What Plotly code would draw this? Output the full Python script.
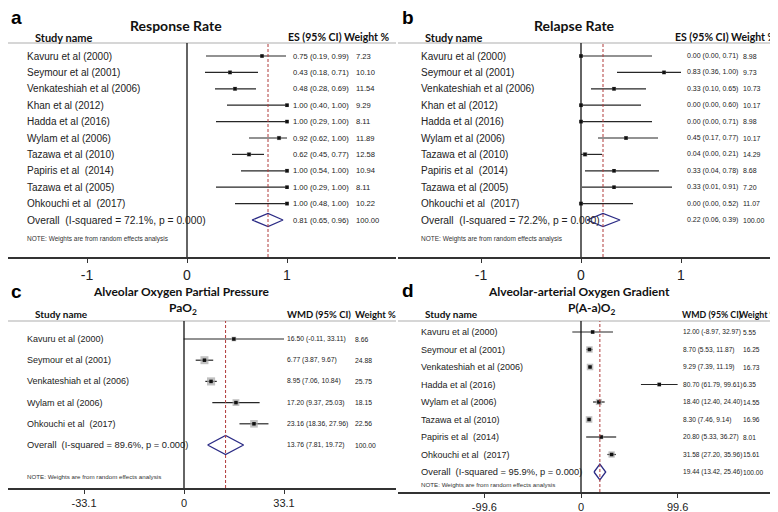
import math
import plotly.graph_objects as go

W, H = 778, 512
BODY = "Liberation Sans, Arial, sans-serif"
HEAD = "Lato, Calibri, sans-serif"
NB = "\u00a0"

# ---------------- data ----------------
a_names = ["Kavuru et al (2000)", "Seymour et al (2001)", "Venkateshiah et al (2006)",
           "Khan et al (2012)", "Hadda et al (2016)", "Wylam et al (2006)",
           "Tazawa et al (2010)", "Papiris et al  (2014)", "Tazawa et al (2005)",
           "Ohkouchi et al  (2017)"]
a_es = [0.75, 0.43, 0.48, 1.00, 1.00, 0.92, 0.62, 1.00, 1.00, 1.00]
a_lo = [0.19, 0.18, 0.28, 0.40, 0.29, 0.62, 0.45, 0.54, 0.29, 0.48]
a_hi = [0.99, 0.71, 0.69, 1.00, 1.00, 1.00, 0.77, 1.00, 1.00, 1.00]
a_wt = [7.23, 10.10, 11.54, 9.29, 8.11, 11.89, 12.58, 10.94, 8.11, 10.22]
a_overall = [0.65, 0.81, 0.96]
a_i2 = "72.1%"
a_p = "0.000"
a_tickvals = [-1, 0, 1]
a_ticktext = ["-1", "0", "1"]

b_names = a_names
b_es = [0.00, 0.83, 0.33, 0.00, 0.00, 0.45, 0.04, 0.33, 0.33, 0.00]
b_lo = [0.00, 0.36, 0.10, 0.00, 0.00, 0.17, 0.00, 0.04, 0.01, 0.00]
b_hi = [0.71, 1.00, 0.65, 0.60, 0.71, 0.77, 0.21, 0.78, 0.91, 0.52]
b_wt = [8.98, 9.73, 10.73, 10.17, 8.98, 10.17, 14.29, 8.68, 7.20, 11.07]
b_overall = [0.06, 0.22, 0.39]
b_i2 = "72.2%"
b_p = "0.000"
b_tickvals = [-1, 0, 1]
b_ticktext = ["-1", "0", "1"]

c_names = ["Kavuru et al (2000)", "Seymour et al (2001)", "Venkateshiah et al (2006)",
           "Wylam et al (2006)", "Ohkouchi et al  (2017)"]
c_es = [16.50, 6.77, 8.95, 17.20, 23.16]
c_lo = [-0.11, 3.87, 7.06, 9.37, 18.36]
c_hi = [33.11, 9.67, 10.84, 25.03, 27.96]
c_wt = [8.66, 24.88, 25.75, 18.15, 22.56]
c_overall = [7.81, 13.76, 19.72]
c_i2 = "89.6%"
c_p = "0.000"
c_tickvals = [-33.1, 0, 33.1]
c_ticktext = ["-33.1", "0", "33.1"]

d_names = ["Kavuru et al (2000)", "Seymour et al (2001)", "Venkateshiah et al (2006)",
           "Hadda et al (2016)", "Wylam et al (2006)", "Tazawa et al (2010)",
           "Papiris et al  (2014)", "Ohkouchi et al  (2017)"]
d_es = [12.00, 8.70, 9.29, 80.70, 18.40, 8.30, 20.80, 31.58]
d_lo = [-8.97, 5.53, 7.39, 61.79, 12.40, 7.46, 5.33, 27.20]
d_hi = [32.97, 11.87, 11.19, 99.61, 24.40, 9.14, 36.27, 35.96]
d_wt = [5.55, 16.25, 16.73, 6.35, 14.55, 16.96, 8.01, 15.61]
d_overall = [13.42, 19.44, 25.46]
d_i2 = "95.9%"
d_p = "0.000"
d_tickvals = [-99.6, 0, 99.6]
d_ticktext = ["-99.6", "0", "99.6"]

NOTE = "NOTE: Weights are from random effects analysis"

# ---------------- layout config (pixels) ----------------
panels = [
    dict(letter="a", title="Response Rate", sub=None,
         names=a_names, es=a_es, lo=a_lo, hi=a_hi, wt=a_wt, ov=a_overall, i2=a_i2, p=a_p,
         tv=a_tickvals, tt=a_ticktext,
         left=0, right=388, zero=179, ppu=100.0, hdr=35, axis=249, row0=48, step=16.4,
         letter_x=1, letter_y=9, title_x=168, title_y=17, title_fs=14, sub_y=None, sub_x=None,
         sh_x=25, sh_y=29, sh_fs=11, hdr_mode="single", hdr_text="ES (95% CI) Weight %", hdr_right=384,
         hdr_fs=10.5, hdr_vx=None, hdr_wx=None,
         name_x=17, val_x=283, wt_x=346, note_y=231, name_fs=10, val_fs=7.6, note_fs=6.5,
         tick_fs=14, dia_h=0.4, box_k=1.25),
    dict(letter="b", title="Relapse Rate", sub=None,
         names=b_names, es=b_es, lo=b_lo, hi=b_hi, wt=b_wt, ov=b_overall, i2=b_i2, p=b_p,
         tv=b_tickvals, tt=b_ticktext,
         left=390, right=778, zero=573, ppu=100.0, hdr=35, axis=249, row0=48, step=16.4,
         letter_x=392, letter_y=9, title_x=566, title_y=17, title_fs=14, sub_y=None, sub_x=None,
         sh_x=415, sh_y=29, sh_fs=11, hdr_mode="single", hdr_text="ES (95% CI) Weight %", hdr_right=771,
         hdr_fs=10.5, hdr_vx=None, hdr_wx=None,
         name_x=411, val_x=677, wt_x=733, note_y=231, name_fs=10, val_fs=7, note_fs=6.5,
         tick_fs=14, dia_h=0.4, box_k=1.25),
    dict(letter="c", title="Alveolar Oxygen Partial Pressure", sub="PaO<sub>2</sub>",
         names=c_names, es=c_es, lo=c_lo, hi=c_hi, wt=c_wt, ov=c_overall, i2=c_i2, p=c_p,
         tv=c_tickvals, tt=c_ticktext,
         left=0, right=388, zero=176, ppu=100.0 / 33.1, hdr=313, axis=480, row0=331, step=21.2,
         letter_x=1, letter_y=283, title_x=173, title_y=283, title_fs=12, sub_x=175, sub_y=300,
         sh_x=25, sh_y=306, sh_fs=10, hdr_mode="split", hdr_text="WMD (95% CI)", hdr_right=None,
         hdr_fs=9.5, hdr_vx=277, hdr_wx=345,
         name_x=17, val_x=277, wt_x=345, note_y=468, name_fs=9, val_fs=6.8, note_fs=6.2,
         tick_fs=11, dia_h=0.45, box_k=1.6),
    dict(letter="d", title="Alveolar-arterial Oxygen Gradient", sub="P(A-a)O<sub>2</sub>",
         names=d_names, es=d_es, lo=d_lo, hi=d_hi, wt=d_wt, ov=d_overall, i2=d_i2, p=d_p,
         tv=d_tickvals, tt=d_ticktext,
         left=390, right=778, zero=573, ppu=0.97, hdr=313, axis=484, row0=324, step=17.5,
         letter_x=392, letter_y=282, title_x=571, title_y=283, title_fs=12, sub_x=583, sub_y=300,
         sh_x=415, sh_y=306, sh_fs=10, hdr_mode="split", hdr_text="WMD (95% CI)", hdr_right=None,
         hdr_fs=8.8, hdr_vx=672, hdr_wx=729,
         name_x=411, val_x=673, wt_x=733, note_y=476, name_fs=9, val_fs=6.6, note_fs=6.2,
         tick_fs=11, dia_h=0.45, box_k=1.6),
]

fig = go.Figure()
shapes = []
annots = []


def px(p):
    return p / W


def py(p):
    return 1 - p / H


def fmt(v):
    return f"{v:.2f}"


for i, P in enumerate(panels, start=1):
    xs = "x" if i == 1 else f"x{i}"
    ys = "y" if i == 1 else f"y{i}"
    xk = "xaxis" if i == 1 else f"xaxis{i}"
    yk = "yaxis" if i == 1 else f"yaxis{i}"
    n = len(P["names"])
    rows = list(range(n))
    orow = n

    xr = [(P["left"] - P["zero"]) / P["ppu"], (P["right"] - P["zero"]) / P["ppu"]]
    yr = [(P["axis"] - P["row0"]) / P["step"], (P["hdr"] - P["row0"]) / P["step"]]
    fig.update_layout({
        xk: dict(domain=[px(P["left"]), px(P["right"])], range=xr, anchor=ys,
                 showline=True, linecolor="#333333", linewidth=1.5,
                 ticks="outside", ticklen=4, tickwidth=1, tickcolor="#333333",
                 tickvals=P["tv"], ticktext=P["tt"],
                 tickfont=dict(family=BODY, size=P["tick_fs"], color="#222222"),
                 showgrid=False, zeroline=False, fixedrange=True),
        yk: dict(domain=[py(P["axis"]), py(P["hdr"])], range=yr, anchor=xs,
                 visible=False, fixedrange=True),
    })

    # CI lines
    cx, cy = [], []
    for r, lo, hi in zip(rows, P["lo"], P["hi"]):
        cx += [lo, hi, None]
        cy += [r, r, None]
    fig.add_trace(go.Scatter(x=cx, y=cy, mode="lines", xaxis=xs, yaxis=ys,
                             line=dict(color="#262626", width=1.2), hoverinfo="skip",
                             showlegend=False))
    # weight boxes
    fig.add_trace(go.Scatter(x=P["es"], y=rows, mode="markers", xaxis=xs, yaxis=ys,
                             marker=dict(symbol="square", color="#a6a6a6",
                                         size=[P["box_k"] * math.sqrt(w) for w in P["wt"]],
                                         line=dict(width=0)),
                             hoverinfo="skip", showlegend=False))
    # point estimates
    fig.add_trace(go.Scatter(x=P["es"], y=rows, mode="markers", xaxis=xs, yaxis=ys,
                             marker=dict(symbol="square", color="#111111", size=3.5,
                                         line=dict(width=0)),
                             hoverinfo="skip", showlegend=False))
    # diamond
    lo, es, hi = P["ov"]
    h = P["dia_h"]
    fig.add_trace(go.Scatter(x=[lo, es, hi, es, lo], y=[orow, orow - h, orow, orow + h, orow],
                             mode="lines", xaxis=xs, yaxis=ys,
                             line=dict(color="#2b2b85", width=1.3), hoverinfo="skip",
                             showlegend=False))

    # shapes
    shapes.append(dict(type="line", xref="paper", yref="paper",
                       x0=px(P["left"]), x1=px(P["right"]), y0=py(P["hdr"]), y1=py(P["hdr"]),
                       line=dict(color="#c8c8c8", width=1.5)))
    shapes.append(dict(type="line", xref=xs, yref=f"{ys} domain", x0=0, x1=0, y0=0, y1=1,
                       line=dict(color="#111111", width=1.3)))
    shapes.append(dict(type="line", xref=xs, yref=f"{ys} domain", x0=es, x1=es, y0=0, y1=1,
                       line=dict(color="#b03a3a", width=1, dash="3px,2px")))

    # texts
    annots.append(dict(text=f"<b>{P['letter']}</b>", x=px(P["letter_x"]), y=py(P["letter_y"]),
                       xref="paper", yref="paper", xanchor="left", yanchor="middle",
                       showarrow=False, font=dict(family=BODY, size=19, color="#000")))
    annots.append(dict(text=f"<b>{P['title']}</b>", x=px(P["title_x"]), y=py(P["title_y"]),
                       xref="paper", yref="paper", xanchor="center", yanchor="middle",
                       showarrow=False, font=dict(family=HEAD, size=P["title_fs"], color="#111")))
    if P["sub"]:
        annots.append(dict(text=f"<b>{P['sub']}</b>", x=px(P["sub_x"]), y=py(P["sub_y"]),
                           xref="paper", yref="paper", xanchor="center", yanchor="middle",
                           showarrow=False, font=dict(family=HEAD, size=P["title_fs"], color="#111")))
    annots.append(dict(text="<b>Study name</b>", x=px(P["sh_x"]), y=py(P["sh_y"]),
                       xref="paper", yref="paper", xanchor="left", yanchor="middle",
                       showarrow=False, font=dict(family=HEAD, size=P["sh_fs"], color="#111")))
    if P["hdr_mode"] == "single":
        annots.append(dict(text=f"<b>{P['hdr_text']}</b>", x=px(P["hdr_right"]), y=py(P["sh_y"]),
                           xref="paper", yref="paper", xanchor="right", yanchor="middle",
                           showarrow=False, font=dict(family=HEAD, size=P["hdr_fs"], color="#111")))
    else:
        annots.append(dict(text=f"<b>{P['hdr_text']}</b>", x=px(P["hdr_vx"]), y=py(P["sh_y"]),
                           xref="paper", yref="paper", xanchor="left", yanchor="middle",
                           showarrow=False, font=dict(family=HEAD, size=P["hdr_fs"], color="#111")))
        annots.append(dict(text="<b>Weight %</b>", x=px(P["hdr_wx"]), y=py(P["sh_y"]),
                           xref="paper", yref="paper", xanchor="left", yanchor="middle",
                           showarrow=False, font=dict(family=HEAD, size=P["hdr_fs"], color="#111")))

    def row_text(txt, xpix, r, fs):
        annots.append(dict(text=txt.replace("  ", NB + NB), x=px(xpix), y=r,
                           xref="paper", yref=ys, xanchor="left", yanchor="middle",
                           showarrow=False, font=dict(family=BODY, size=fs, color="#222")))

    for r, nm, e, l, hh, w in zip(rows, P["names"], P["es"], P["lo"], P["hi"], P["wt"]):
        row_text(nm, P["name_x"], r, P["name_fs"])
        row_text(f"{fmt(e)} ({fmt(l)}, {fmt(hh)})", P["val_x"], r, P["val_fs"])
        row_text(fmt(w), P["wt_x"], r, P["val_fs"])
    row_text(f"Overall  (I-squared = {P['i2']}, p = {P['p']})", P["name_x"], orow, P["name_fs"] + 0.3)
    row_text(f"{fmt(es)} ({fmt(lo)}, {fmt(hi)})", P["val_x"], orow, P["val_fs"])
    row_text(fmt(100), P["wt_x"], orow, P["val_fs"])
    annots.append(dict(text=NOTE, x=px(P["name_x"]), y=py(P["note_y"]),
                       xref="paper", yref="paper", xanchor="left", yanchor="middle",
                       showarrow=False, font=dict(family=BODY, size=P["note_fs"], color="#333")))

fig.update_layout(width=W, height=H, margin=dict(l=0, r=0, t=0, b=0),
                  paper_bgcolor="white", plot_bgcolor="white", showlegend=False,
                  shapes=shapes, annotations=annots)

fig.write_html("out.html")
